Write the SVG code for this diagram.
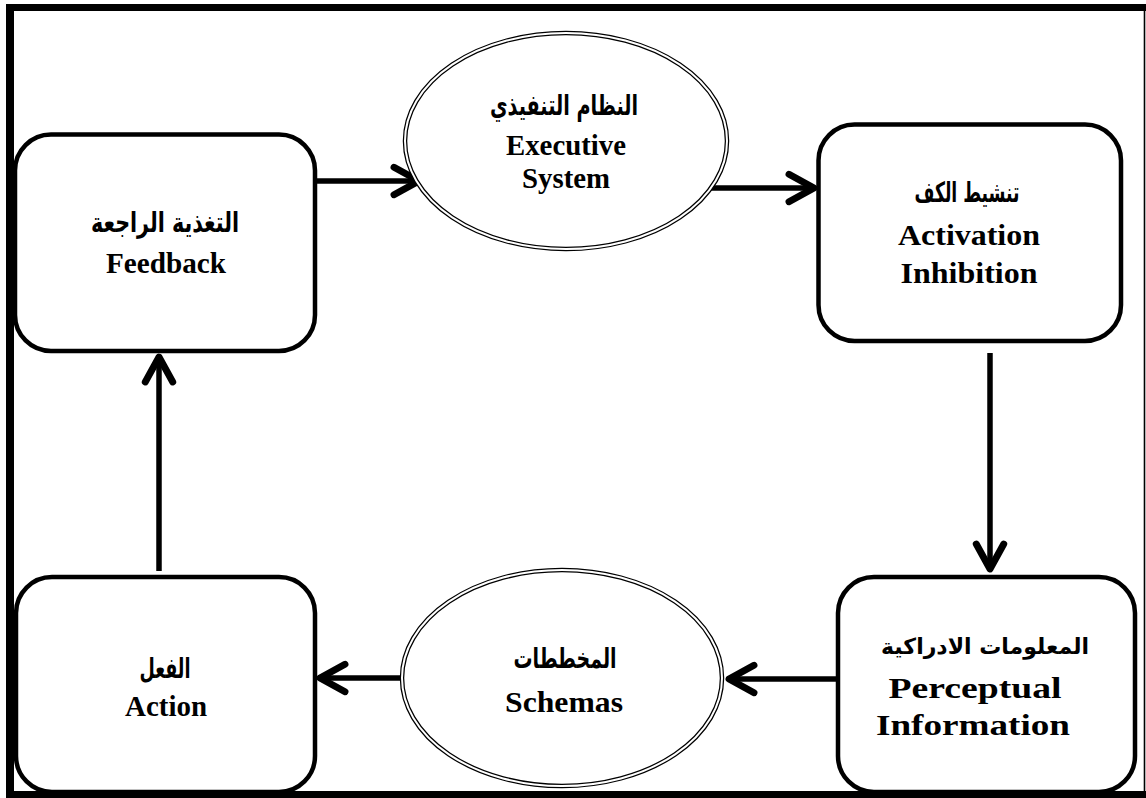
<svg xmlns="http://www.w3.org/2000/svg" width="1146" height="798" viewBox="0 0 1146 798">
<style>
.box{fill:#fff;stroke:#000;stroke-width:4.5}
.ell-o{fill:#fff;stroke:#000;stroke-width:4.5}
.ell-i{fill:none;stroke:#fff;stroke-width:2}
.en{font-family:"Liberation Serif","Times New Roman",serif;font-weight:bold;font-size:30px;fill:#000;text-anchor:middle}
.ar{font-family:"DejaVu Sans","Noto Sans",sans-serif;font-weight:bold;font-size:28px;fill:#000;text-anchor:middle;direction:rtl}
.ar-s{font-size:22px}
.conn{stroke:#000;stroke-width:5.5;fill:none}
</style>
<defs>
<marker id="arr" markerUnits="userSpaceOnUse" orient="auto" markerWidth="40" markerHeight="40" refX="0" refY="0" viewBox="-26 -16 30 32" overflow="visible">
<path d="M -20 -11 L 0 0 L -20 11" fill="none" stroke="#000" stroke-width="5.5" stroke-linecap="round" stroke-linejoin="round"/>
</marker>
</defs>
<rect width="1146" height="798" fill="#fff"/>
<g id="frame">
<rect x="6" y="4" width="1140" height="7" fill="#000"/>
<rect x="6" y="4" width="8" height="794" fill="#000"/>
<line x1="1144.5" y1="4" x2="1144.5" y2="798" stroke="#000" stroke-width="1.6"/>
</g>
<g id="connectors">
<line class="conn" x1="316" y1="181" x2="419" y2="181" marker-end="url(#arr)"/>
<line class="conn" x1="708" y1="188" x2="814" y2="188" marker-end="url(#arr)"/>
<line class="conn" x1="990" y1="353" x2="990" y2="569" marker-end="url(#arr)"/>
<line class="conn" x1="836" y1="679" x2="729" y2="679" marker-end="url(#arr)"/>
<line class="conn" x1="405" y1="678" x2="320" y2="678" marker-end="url(#arr)"/>
<line class="conn" x1="159" y1="571" x2="159" y2="357" marker-end="url(#arr)"/>
</g>
<g id="feedback">
<rect class="box" x="15" y="134.5" width="300" height="216.5" rx="36"/>
<text class="ar" x="165" y="232" textLength="148" lengthAdjust="spacingAndGlyphs">التغذية الراجعة</text>
<text class="en" x="166" y="273" textLength="120" lengthAdjust="spacingAndGlyphs">Feedback</text>
</g>
<g id="executive">
<ellipse class="ell-o" cx="566" cy="141" rx="161" ry="108"/>
<ellipse class="ell-i" cx="566" cy="141" rx="161" ry="108"/>
<text class="ar" x="564" y="115" textLength="148" lengthAdjust="spacingAndGlyphs">النظام التنفيذي</text>
<text class="en" x="566" y="155" textLength="120" lengthAdjust="spacingAndGlyphs">Executive</text>
<text class="en" x="566" y="188" textLength="88" lengthAdjust="spacingAndGlyphs">System</text>
</g>
<g id="activation">
<rect class="box" x="818.5" y="124.5" width="302.5" height="216.5" rx="36"/>
<text class="ar" x="967" y="202" textLength="105" lengthAdjust="spacingAndGlyphs">تنشيط الكف</text>
<text class="en" x="969" y="245" textLength="142" lengthAdjust="spacingAndGlyphs">Activation</text>
<text class="en" x="969" y="283" textLength="137" lengthAdjust="spacingAndGlyphs">Inhibition</text>
</g>
<g id="perceptual">
<rect class="box" x="838" y="577" width="297" height="215" rx="36"/>
<text class="ar ar-s" x="985" y="654">المعلومات الادراكية</text>
<text class="en" x="975" y="698" textLength="173" lengthAdjust="spacingAndGlyphs">Perceptual</text>
<text class="en" x="973" y="735" textLength="194" lengthAdjust="spacingAndGlyphs">Information</text>
</g>
<g id="schemas">
<ellipse class="ell-o" cx="562" cy="678" rx="160" ry="108"/>
<ellipse class="ell-i" cx="562" cy="678" rx="160" ry="108"/>
<text class="ar" x="565" y="668" textLength="103" lengthAdjust="spacingAndGlyphs">المخططات</text>
<text class="en" x="564" y="712" textLength="118" lengthAdjust="spacingAndGlyphs">Schemas</text>
</g>
<g id="action">
<rect class="box" x="16" y="577" width="299" height="215" rx="36"/>
<text class="ar" x="165" y="678" textLength="51" lengthAdjust="spacingAndGlyphs">الفعل</text>
<text class="en" x="166" y="716" textLength="82" lengthAdjust="spacingAndGlyphs">Action</text>
</g>
<g id="frame-bottom">
<rect x="6" y="791" width="1140" height="7" fill="#000"/>
</g>
</svg>
